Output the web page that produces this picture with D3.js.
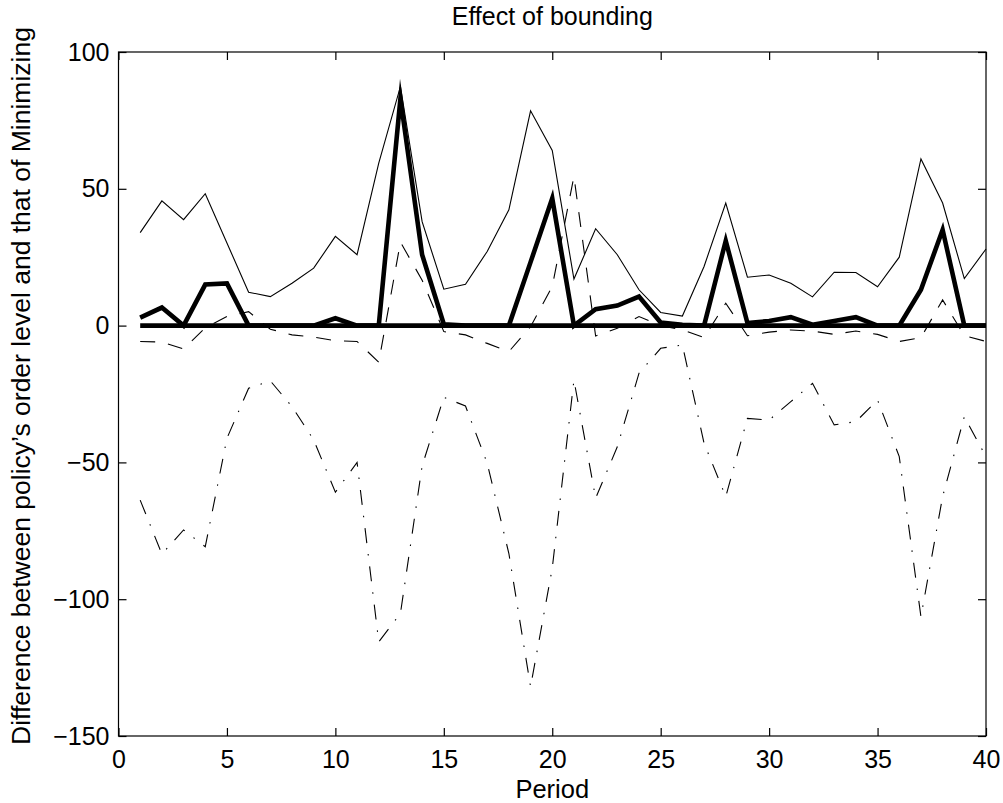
<!DOCTYPE html>
<html>
<head>
<meta charset="utf-8">
<script src="https://cdn.jsdelivr.net/npm/d3@7"></script>
<style>
  html, body { margin: 0; padding: 0; background: #fff; }
  svg { display: block; font-family: "Liberation Sans", Arial, Helvetica, sans-serif; }
</style>
</head>
<body>
<svg id="chart" width="1003" height="803"></svg>
<script>
const periods = [1,2,3,4,5,6,7,8,9,10,11,12,13,14,15,16,17,18,19,20,21,22,23,24,25,26,27,28,29,30,31,32,33,34,35,36,37,38,39,40];

const thinSolid = [34.0,45.6,38.7,48.2,30.2,12.2,10.6,15.5,21.0,32.6,25.9,59.4,87.4,38.0,13.3,15.1,27.1,42.3,78.5,64.0,17.0,35.4,25.9,13.1,4.8,3.5,21.6,44.8,17.7,18.5,15.5,10.5,19.5,19.4,14.2,25.0,60.9,44.8,17.2,28.0];

const thickSolid = [2.9,6.6,0,15.0,15.4,0,0,0,0,2.7,0,0,83.0,25.9,0.5,0,0,0,23.2,46.5,0,6.0,7.3,10.6,1.1,0.3,0,31.0,0.9,1.7,3.1,0.3,1.7,3.1,0,0,13.1,35.0,0,0];

const zeroLine = [0,0,0,0,0,0,0,0,0,0,0,0,0,0,0,0,0,0,0,0,0,0,0,0,0,0,0,0,0,0,0,0,0,0,0,0,0,0,0,0];

const dashed = [-5.8,-6.0,-8.5,-0.8,3.3,5.1,-1.3,-3.4,-4.2,-5.5,-5.8,-13.4,30.5,16.6,-2.2,-3.4,-6.5,-9.5,-0.4,14.3,54.5,-3.8,-1.0,3.3,0.0,-1.5,-4.4,8.2,-3.7,-2.4,-1.6,-2.0,-3.2,-2.0,-3.2,-5.8,-4.4,9.4,-3.7,-5.8];

const dashDot = [-63.8,-83.5,-74.7,-80.8,-41.2,-22.9,-20.2,-29.6,-41.8,-60.9,-50.0,-115.6,-105.2,-51.3,-26.2,-29.4,-50.3,-83.3,-132.0,-88.7,-19.9,-63.1,-44.3,-17.4,-8.3,-7.1,-43.0,-62.5,-33.9,-34.5,-27.8,-21.1,-36.3,-35.1,-27.2,-47.9,-106.4,-62.5,-33.3,-47.9];

const xTicks = [0,5,10,15,20,25,30,35,40];
const yTicks = [-150,-100,-50,0,50,100];

const titleText = "Effect of bounding";
const xLabelText = "Period";
const yLabelText = "Difference between policy\u2019s order level and that of Minimizing";

const svg = d3.select("#chart");
const plotLeft = 118.5, plotRight = 986, plotTop = 52, plotBottom = 736;

const x = d3.scaleLinear().domain([0, 40]).range([plotLeft, plotRight]);
const y = d3.scaleLinear().domain([-150, 100]).range([plotBottom, plotTop]);

svg.append("rect")
  .attr("x", plotLeft).attr("y", plotTop)
  .attr("width", plotRight - plotLeft).attr("height", plotBottom - plotTop)
  .attr("fill", "none").attr("stroke", "#000").attr("stroke-width", 1.2);

const fmt = d3.format("");
const tickFont = 25;
const labelFont = 26.5;

const gB = svg.append("g").attr("transform", `translate(0,${plotBottom})`)
  .call(d3.axisBottom(x).tickValues(xTicks).tickSizeInner(-8).tickSizeOuter(0).tickPadding(14).tickFormat(fmt));
const gT = svg.append("g").attr("transform", `translate(0,${plotTop})`)
  .call(d3.axisTop(x).tickValues(xTicks).tickSizeInner(-8).tickSizeOuter(0).tickFormat(""));
const gL = svg.append("g").attr("transform", `translate(${plotLeft},0)`)
  .call(d3.axisLeft(y).tickValues(yTicks).tickSizeInner(-8).tickSizeOuter(0).tickPadding(9).tickFormat(fmt));
const gR = svg.append("g").attr("transform", `translate(${plotRight},0)`)
  .call(d3.axisRight(y).tickValues(yTicks).tickSizeInner(-8).tickSizeOuter(0).tickFormat(""));

[gB, gT, gL, gR].forEach(g => {
  g.select(".domain").remove();
  g.selectAll(".tick line").attr("stroke", "#000").attr("stroke-width", 1.2);
  g.selectAll(".tick text").attr("fill", "#000")
    .style("font-size", tickFont + "px")
    .style("font-family", "'Liberation Sans', Arial, Helvetica, sans-serif");
});

const line = d3.line().x((d, i) => x(periods[i])).y(d => y(d));

const series = [
  { data: thinSolid, w: 1.1, dash: null },
  { data: dashed, w: 1.1, dash: "15,13" },
  { data: dashDot, w: 1.1, dash: "15,11,1.5,11" },
  { data: thickSolid, w: 4.6, dash: null },
  { data: zeroLine, w: 4.6, dash: null }
];

series.forEach(s => {
  const p = svg.append("path")
    .datum(s.data)
    .attr("d", line)
    .attr("fill", "none")
    .attr("stroke", "#000")
    .attr("stroke-width", s.w)
    .attr("stroke-linejoin", "miter")
    .attr("stroke-miterlimit", 10)
    .attr("stroke-linecap", "butt");
  if (s.dash) p.attr("stroke-dasharray", s.dash);
});

svg.append("text")
  .attr("x", (plotLeft + plotRight) / 2).attr("y", 25)
  .attr("text-anchor", "middle")
  .style("font-size", "25px")
  .text(titleText);

svg.append("text")
  .attr("x", (plotLeft + plotRight) / 2).attr("y", 798)
  .attr("text-anchor", "middle")
  .style("font-size", "25.5px")
  .text(xLabelText);

svg.append("text")
  .attr("transform", `translate(30,386) rotate(-90)`)
  .attr("text-anchor", "middle")
  .style("font-size", labelFont + "px")
  .text(yLabelText);
</script>
</body>
</html>
